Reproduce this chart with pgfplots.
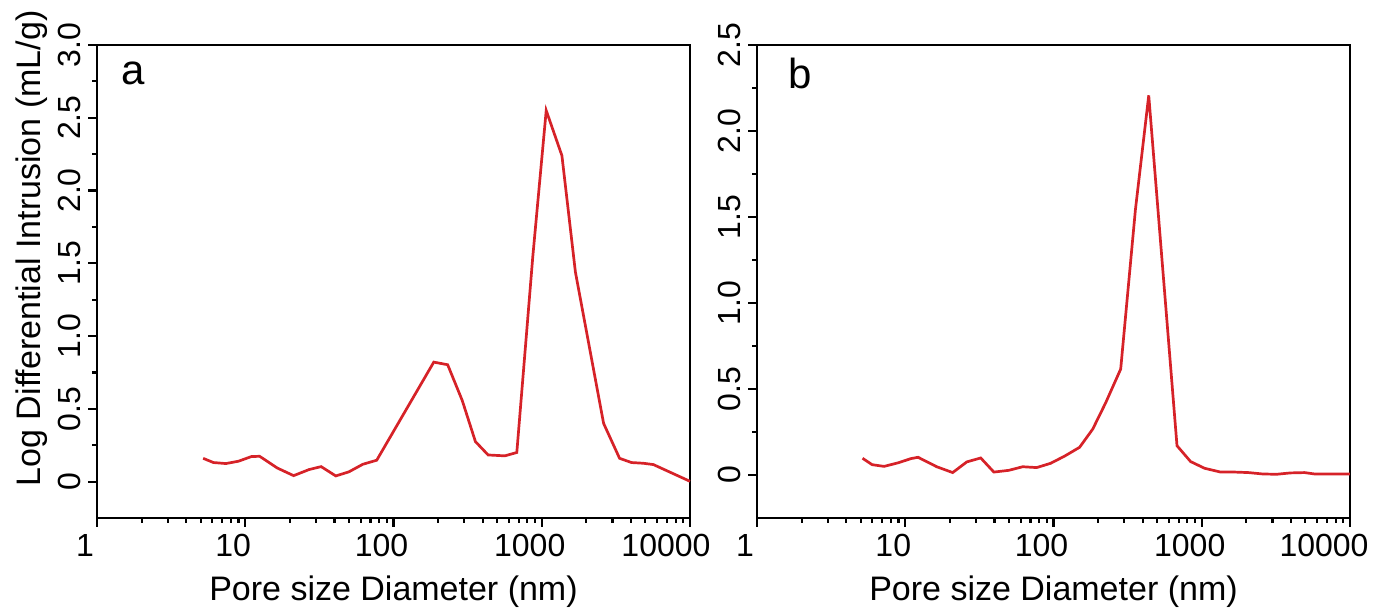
\documentclass[border=0pt]{standalone}
\usepackage{pgfplots}
\pgfplotsset{compat=1.18}
\usepackage{fontspec}
\setmainfont{Liberation Sans}

\definecolor{curvered}{RGB}{214,34,40}

\pgfplotsset{
  poreaxis/.style={
    scale only axis,
    width=296.5pt, height=236.5pt,
    xmin=1, xmax=10000,
    xtick={1,10,100,1000,10000},
    ymin=-0.25,
    tick align=outside,
    xtick pos=bottom, ytick pos=left,
    major tick length=4.5pt, minor tick length=2.5pt,
    minor y tick num=1,
    axis line style={line width=1.1pt},
    every tick/.style={line width=1.1pt, black},
    tick label style={font=\fontsize{16}{18}\selectfont},
    xticklabel style={xshift=-6pt},
    yticklabel style={rotate=90, anchor=south},
    label style={font=\fontsize{17}{19}\selectfont},
    xlabel={Pore size Diameter (nm)},
    xlabel style={at={(axis description cs:0.5,-0.156)}, anchor=center},
    clip=false,
  },
}

\begin{document}
\begin{tikzpicture}
\path[use as bounding box] (0,0) rectangle (688pt,306.5pt);

% panel a
\begin{semilogxaxis}[poreaxis,
  at={(48.5pt,47.5pt)}, anchor=south west,
  xticklabels={1,10,100,1000,\hspace*{-12pt}10000},
  ymax=3.0,
  ytick={0,0.5,1.0,1.5,2.0,2.5,3.0},
  yticklabels={0,0.5,1.0,1.5,2.0,2.5,3.0},
  ylabel={Log Differential Intrusion (mL/g)},
  ylabel style={at={(axis description cs:-0.11,0.57)}, anchor=center, rotate=0},
]
\addplot[curvered, line width=1.35pt] coordinates {
  (5.2,0.16) (6.1,0.131) (7.4,0.124) (9.0,0.14) (11.0,0.172) (12.5,0.174)
  (16.4,0.094) (21.2,0.041) (27.0,0.083) (32.5,0.103) (40.8,0.039)
  (50.0,0.067) (62.1,0.119) (77.1,0.147) (187,0.821) (232,0.803)
  (291,0.557) (357,0.275) (435,0.183) (564,0.177) (679,0.2)
  (871,1.55) (1072,2.55) (1368,2.24) (1687,1.44) (2614,0.40)
  (3350,0.16) (4030,0.131) (4850,0.126) (5665,0.117) (10000,0.002)
};
\node[font=\fontsize{21}{24}\selectfont] at (axis description cs:0.061,0.94) {a};
\end{semilogxaxis}

% panel b
\begin{semilogxaxis}[poreaxis,
  at={(378.5pt,47.5pt)}, anchor=south west,
  xticklabels={1,10,100,1000,\hspace*{-14pt}10000},
  ymax=2.5,
  ytick={0,0.5,1.0,1.5,2.0,2.5},
  yticklabels={0,0.5,1.0,1.5,2.0,2.5},
]
\addplot[curvered, line width=1.35pt] coordinates {
  (5.15,0.097) (5.98,0.060) (7.2,0.050) (9.06,0.072) (10.9,0.095)
  (12.2,0.103) (16.3,0.048) (20.9,0.014) (26.0,0.076) (32.3,0.099)
  (39.6,0.017) (49.9,0.027) (62,0.048) (77,0.043) (95.7,0.068)
  (119,0.11) (150,0.161) (184,0.267) (225,0.42) (284,0.616)
  (357,1.543) (439,2.207) (681,0.17) (841,0.078) (1045,0.039)
  (1339,0.017) (1664,0.017) (2066,0.014) (2569,0.006) (3190,0.004)
  (3963,0.012) (4930,0.014) (5756,0.006) (10000,0.006)
};
\node[font=\fontsize{21}{24}\selectfont] at (axis description cs:0.072,0.94) {b};
\end{semilogxaxis}
\end{tikzpicture}
\end{document}
